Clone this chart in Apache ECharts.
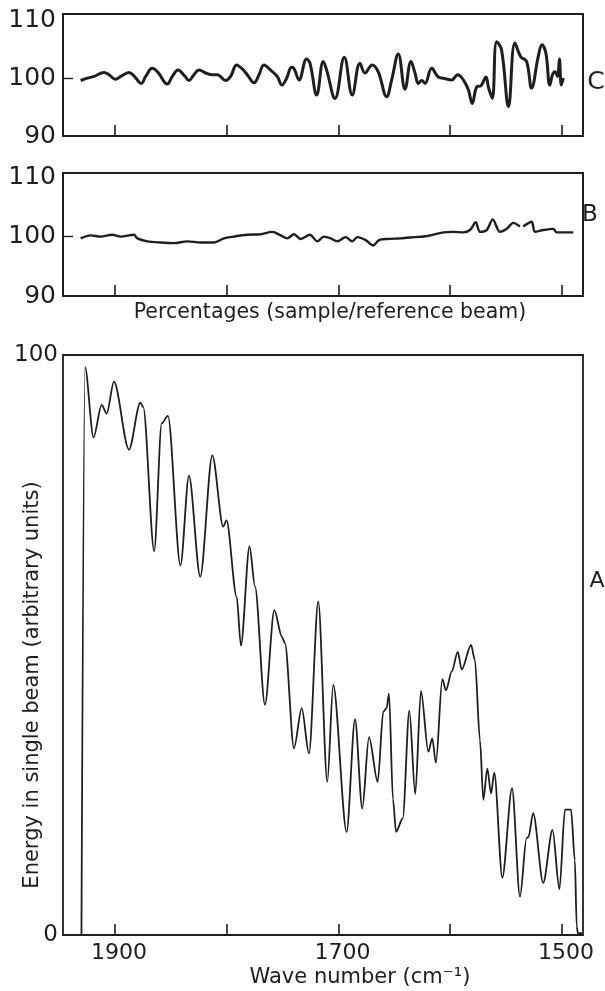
<!DOCTYPE html>
<html>
<head>
<meta charset="utf-8">
<script src="https://cdn.jsdelivr.net/npm/echarts@6/dist/echarts.min.js"></script>
<style>
html, body { margin: 0; padding: 0; background: #fff; }
#chart { width: 605px; height: 991px; }
</style>
</head>
<body>
<div id="chart"></div>
<script>
// wave number ticks shared by the three panels
const waveTicks = [1900, 1800, 1700, 1600, 1500];
const waveLabels = [1900, 1700, 1500];
const percentLabels = [90, 100, 110];
const energyLabels = [0, 100];

// C: percentages, first run
const cWave = [1930.7, 1924.8, 1918.8, 1909.8, 1905.4, 1899.4, 1894.9, 1887.5, 1883.0, 1876.5,
    1872.5, 1866.6, 1861.5, 1853.2, 1848.7, 1843.6, 1837.6, 1833.8, 1829.3, 1824.8,
    1818.8, 1812.9, 1808.5, 1800.9, 1796.5, 1791.1, 1786.1, 1781.6, 1775.6, 1771.1,
    1766.7, 1760.7, 1754.8, 1750.6, 1746.4, 1741.9, 1739.6, 1735.3, 1728.5, 1725.5,
    1719.5, 1713.6, 1710.6, 1703.1, 1694.8, 1687.7, 1680.8, 1676.3, 1669.8, 1664.4,
    1656.9, 1652.4, 1646.5, 1640.5, 1635.1, 1631.5, 1628.6, 1625.5, 1622.6, 1616.6,
    1610.7, 1606.2, 1598.7, 1593.3, 1588.3, 1583.8, 1580.3, 1576.3, 1572.5, 1568.0,
    1565.9, 1562.4, 1558.5, 1554.1, 1547.9, 1542.1, 1536.9, 1531.7, 1527.2, 1521.3,
    1517.9, 1514.4, 1510.9, 1508.5, 1506.3, 1504.0, 1502.3, 1500.6, 1498.8];
const cPercent = [99.6, 100.0, 100.3, 101.0, 100.6, 99.8, 100.3, 101.0, 100.4, 99.1,
    100.3, 101.7, 101.0, 99.0, 100.3, 101.4, 100.4, 99.6, 100.6, 101.4,
    100.9, 100.6, 100.6, 99.6, 100.3, 102.3, 101.6, 100.6, 99.2, 100.6,
    102.3, 101.4, 100.3, 98.8, 100.0, 101.9, 101.6, 99.7, 103.3, 102.6,
    97.1, 102.9, 101.4, 96.5, 103.6, 97.1, 102.6, 100.9, 102.3, 101.1,
    96.8, 99.7, 104.2, 98.1, 102.9, 100.9, 99.1, 99.6, 99.1, 101.7,
    100.2, 100.0, 99.7, 100.6, 99.7, 98.0, 95.6, 98.5, 98.7, 100.2,
    98.5, 96.5, 106.3, 104.9, 95.1, 106.1, 103.7, 102.9, 98.3, 103.7,
    105.8, 104.3, 98.8, 100.6, 101.1, 100.3, 103.3, 98.8, 100.0];

// B: percentages, second run ('-' marks the break in the trace)
const bWave = [1930.7, 1921.7, 1912.8, 1902.4, 1894.9, 1883.0, 1880.0, 1871.1, 1859.1, 1847.2,
    1835.3, 1823.3, 1811.4, 1802.5, 1793.5, 1781.6, 1769.6, 1759.2, 1751.7, 1745.8,
    1739.8, 1733.8, 1725.5, 1719.0, 1713.0, 1707.0, 1701.1, 1693.6, 1687.6, 1683.2,
    1675.7, 1668.9, 1663.8, 1656.3, 1644.3, 1632.4, 1620.5, 1606.2, 1597.3, 1588.3,
    1582.3, 1577.2, 1573.4, 1567.4, 1562.0, 1555.5, 1549.5, 1543.6, 1537.6, 1536.2,
    1534.7, 1527.2, 1524.2, 1516.7, 1507.8, 1504.8, 1495.8, 1489.9];
const bPercent = [99.7, 100.2, 100.0, 100.3, 100.0, 100.3, 99.7, 99.2, 99.0, 98.9,
    99.2, 99.0, 99.0, 99.7, 100.0, 100.3, 100.4, 100.8, 100.2, 99.7,
    100.4, 99.6, 100.3, 99.2, 100.0, 99.7, 99.2, 99.9, 99.2, 99.9,
    99.4, 98.5, 99.4, 99.6, 99.7, 99.9, 100.1, 100.7, 100.8, 100.7,
    101.1, 102.4, 100.8, 101.1, 102.9, 100.8, 101.3, 102.3, 101.7, '-',
    101.7, 102.5, 100.8, 101.1, 101.3, 100.7, 100.7, 100.7];

// A: energy in single beam
const aWave = [1930.0, 1926.8, 1919.2, 1911.9, 1907.4, 1900.9, 1887.5, 1877.3, 1874.7, 1864.9,
    1858.2, 1852.6, 1841.4, 1833.8, 1823.7, 1812.9, 1803.1, 1800.2, 1791.1, 1787.3,
    1779.6, 1774.7, 1765.8, 1757.4, 1750.6, 1747.9, 1739.8, 1732.9, 1726.4, 1718.1,
    1710.0, 1704.7, 1692.7, 1685.2, 1678.7, 1672.7, 1664.9, 1659.9, 1657.0, 1654.8,
    1651.2, 1648.5, 1642.5, 1636.6, 1631.3, 1626.2, 1619.6, 1616.1, 1612.8, 1607.1,
    1603.8, 1598.7, 1593.3, 1589.7, 1581.4, 1577.9, 1573.4, 1570.4, 1566.8, 1563.5,
    1560.6, 1553.4, 1544.7, 1537.6, 1531.7, 1530.0, 1525.8, 1516.8, 1508.5, 1502.3,
    1497.3, 1491.9, 1488.5, 1486.8, 1485.7, 1482.1];
const aEnergy = [0, 97.9, 85.8, 91.4, 89.9, 95.4, 83.7, 91.8, 91.0, 66.2,
    88.2, 89.5, 63.7, 79.2, 61.8, 82.7, 70.4, 71.5, 58.3, 49.9,
    67.0, 60.1, 39.7, 56.0, 51.4, 50.3, 32.2, 39.1, 31.3, 57.5,
    26.4, 43.1, 17.8, 37.2, 21.8, 34.1, 26.4, 38.5, 39.1, 41.6,
    23.3, 17.8, 20.1, 38.7, 24.3, 42.1, 31.6, 33.9, 29.7, 44.1,
    42.2, 45.4, 48.8, 45.8, 50.0, 47.4, 33.6, 23.3, 28.7, 24.4,
    28.0, 9.9, 25.3, 6.6, 16.7, 16.9, 21.0, 9.0, 18.1, 7.9,
    21.6, 21.6, 12.9, 1.4, 0.3, 0.3];

const ink = '#1e1e1e';
const font = 'DejaVu Sans';

function pairs(xs, ys) {
    return xs.map((x, i) => [x, ys[i]]);
}

function plain(v) {
    return String(v);
}

function waveAxis(gridIndex, showLabels) {
    return {
        type: 'value', gridIndex: gridIndex, inverse: true,
        min: 1481.2, max: 1946.5,
        axisLine: { show: false },
        splitLine: { show: false },
        axisTick: { show: true, inside: true, length: 11, customValues: waveTicks,
            lineStyle: { color: ink, width: 1.6 } },
        axisLabel: { show: showLabels, customValues: waveLabels, formatter: plain,
            color: ink, fontFamily: font, fontSize: 22, margin: 7, padding: [0, 0, 0, 8] }
    };
}

function percentAxis(gridIndex, max) {
    return {
        type: 'value', gridIndex: gridIndex, min: 90, max: max,
        axisLine: { show: false },
        splitLine: { show: false },
        axisTick: { show: true, inside: true, length: 10, customValues: [100],
            lineStyle: { color: ink, width: 1.4 } },
        axisLabel: { customValues: percentLabels, formatter: plain, color: ink,
            fontFamily: font, fontSize: 25, margin: 7 }
    };
}

function frame(top, height, width) {
    return { left: 63, width: 520, top: top, height: height, show: true,
        borderColor: ink, borderWidth: width, backgroundColor: 'transparent' };
}

function label(text, x, y, size, rotation) {
    return { type: 'text', x: x, y: y, rotation: rotation || 0,
        style: { text: text, fill: ink, font: size + 'px "' + font + '"',
            align: 'center', verticalAlign: 'middle' } };
}

var chart = echarts.init(document.getElementById('chart'));
chart.setOption({
    animation: false,
    backgroundColor: '#fff',
    grid: [frame(14, 122, 2), frame(173, 123, 2), frame(355, 580, 1.8)],
    xAxis: [waveAxis(0, false), waveAxis(1, false), waveAxis(2, true)],
    yAxis: [
        percentAxis(0, 111.1),
        percentAxis(1, 110.7),
        {
            type: 'value', gridIndex: 2, min: 0, max: 100,
            axisLine: { show: false },
            splitLine: { show: false },
            axisTick: { show: false },
            axisLabel: { customValues: energyLabels, formatter: plain, color: ink,
                fontFamily: font, fontSize: 23, margin: 5 }
        }
    ],
    series: [
        { type: 'line', xAxisIndex: 0, yAxisIndex: 0, data: pairs(cWave, cPercent),
            showSymbol: false, smooth: 0.4, lineStyle: { color: ink, width: 3 } },
        { type: 'line', xAxisIndex: 1, yAxisIndex: 1, data: pairs(bWave, bPercent),
            showSymbol: false, smooth: 0.3, connectNulls: false,
            lineStyle: { color: ink, width: 2.4 } },
        { type: 'line', xAxisIndex: 2, yAxisIndex: 2, data: pairs(aWave, aEnergy),
            showSymbol: false, smooth: 0.3, smoothMonotone: 'x',
            lineStyle: { color: ink, width: 1.8 } }
    ],
    graphic: [
        label('C', 596, 82, 25),
        label('B', 590, 215, 23),
        label('A', 597, 581, 22),
        label('Percentages (sample/reference beam)', 330, 313, 20.5),
        label('Wave number (cm\u207B\u00B9)', 360, 978, 21),
        label('Energy in single beam (arbitrary units)', 33, 685, 21, Math.PI / 2)
    ]
});
</script>
</body>
</html>
